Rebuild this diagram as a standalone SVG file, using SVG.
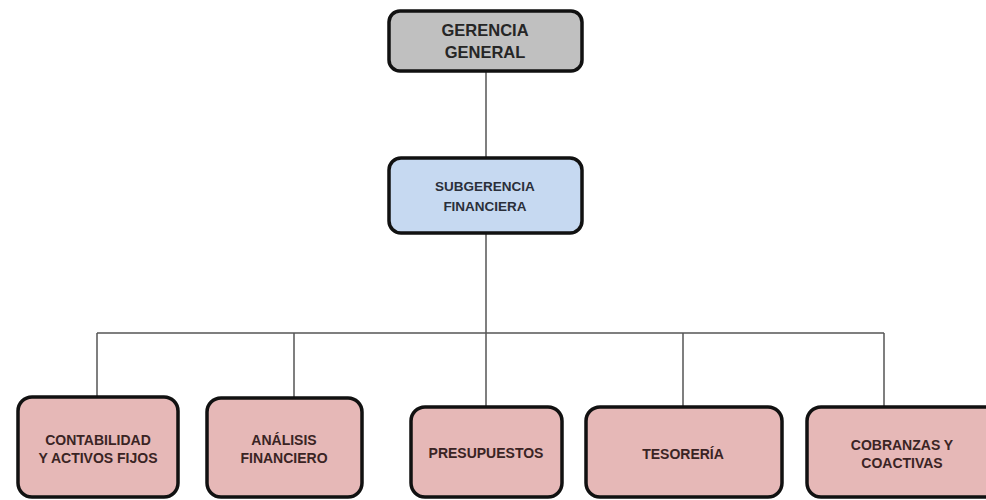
<svg xmlns="http://www.w3.org/2000/svg" width="986" height="500" viewBox="0 0 986 500">
<style>
.box{stroke:#111;stroke-width:3.5}
.gray{fill:#c0c0c0}
.blue{fill:#c6d9f1}
.pink{fill:#e6b8b7}
.t{font-family:"Liberation Sans",Arial,sans-serif;font-weight:bold;text-anchor:middle}
.big{font-size:16.5px;fill:#262626}
.mid{font-size:13.5px;fill:#2a2f3a}
.sm{font-size:14px;fill:#3a2424}
.conn{stroke:#555;stroke-width:1.5;fill:none}
</style>
<rect width="986" height="500" fill="#ffffff"/>
<g id="connectors">
<path class="conn" d="M486 71V157M486 233V407M97 333H884M97 333V396M294 333V398M683 333V407M884 333V407"/>
</g>
<g id="gerencia">
<rect class="box gray" x="389" y="11" width="193" height="60" rx="11"/>
<text class="t big" x="485" y="36">GERENCIA</text>
<text class="t big" x="485" y="58">GENERAL</text>
</g>
<g id="subgerencia">
<rect class="box blue" x="389" y="158" width="193" height="75" rx="12"/>
<text class="t mid" x="485" y="191">SUBGERENCIA</text>
<text class="t mid" x="485" y="211">FINANCIERA</text>
</g>
<g id="contabilidad">
<rect class="box pink" x="18" y="397" width="160" height="100" rx="14"/>
<text class="t sm" x="98" y="445">CONTABILIDAD</text>
<text class="t sm" x="98" y="463">Y ACTIVOS FIJOS</text>
</g>
<g id="analisis">
<rect class="box pink" x="207" y="398" width="155" height="99" rx="14"/>
<text class="t sm" x="284" y="445">ANÁLISIS</text>
<text class="t sm" x="284" y="463">FINANCIERO</text>
</g>
<g id="presupuestos">
<rect class="box pink" x="411" y="407" width="151" height="90" rx="14"/>
<text class="t sm" x="486" y="458">PRESUPUESTOS</text>
</g>
<g id="tesoreria">
<rect class="box pink" x="586" y="407" width="196" height="90" rx="14"/>
<text class="t sm" x="683" y="459">TESORERÍA</text>
</g>
<g id="cobranzas">
<rect class="box pink" x="807" y="407" width="200" height="90" rx="14"/>
<text class="t sm" x="902" y="450">COBRANZAS Y</text>
<text class="t sm" x="902" y="468">COACTIVAS</text>
</g>
</svg>
